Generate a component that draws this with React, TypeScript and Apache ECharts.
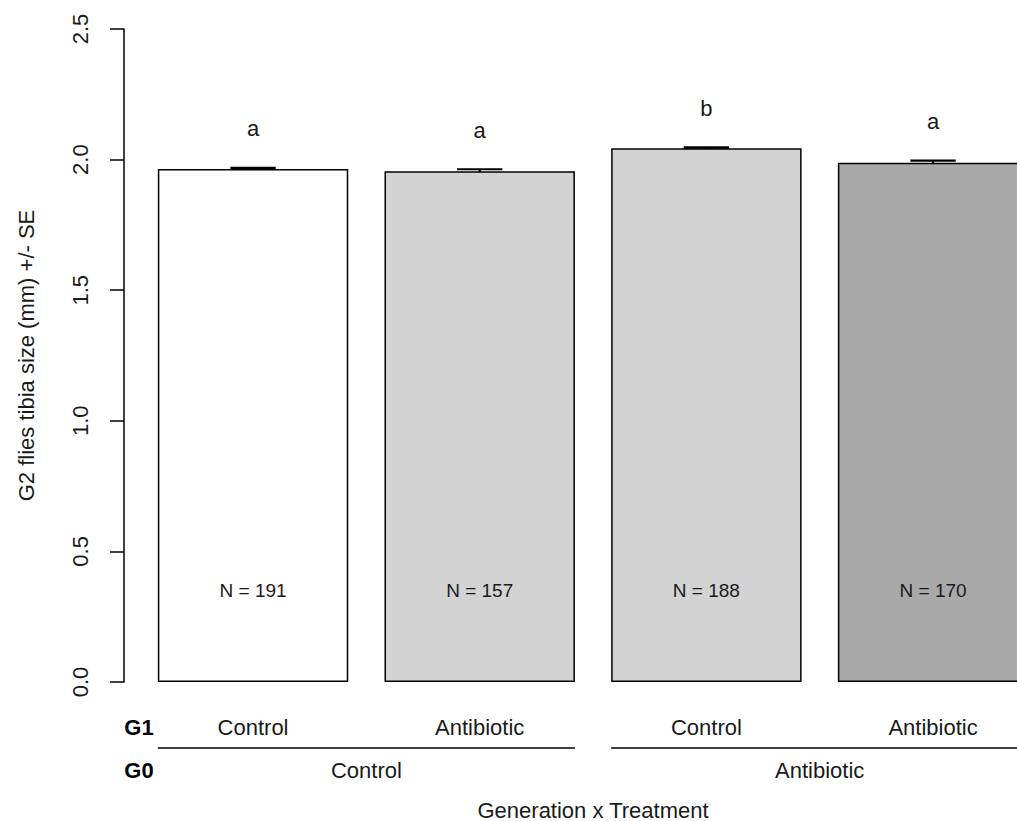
import React, { useEffect, useRef } from "react";
import * as echarts from "echarts";

const g1Labels = ["Control", "Antibiotic", "Control", "Antibiotic"];
const g0Labels = ["Control", "Antibiotic"];
const means = [1.964, 1.955, 2.043, 1.988];
const ses = [0.004, 0.008, 0.004, 0.008];
const letters = ["a", "a", "b", "a"];
const sampleSizes = [191, 157, 188, 170];
const barColors = ["#ffffff", "#d3d3d3", "#d3d3d3", "#a9a9a9"];
const groupSpans = [
  [0, 1],
  [2, 3],
];
const yTicks = { min: 0, max: 2.5, interval: 0.5 };

const FONT = '"Liberation Sans", Arial, Helvetica, sans-serif';
const TXT = "#1a1a1a";

export default function App() {
  const ref = useRef<HTMLDivElement>(null);
  useEffect(() => {
    if (!ref.current) return;
    const chart = echarts.init(ref.current, undefined, { renderer: "svg" });
    const option: any = {
      animation: false,
      backgroundColor: "#ffffff",
      textStyle: { fontFamily: FONT },
      grid: {
        left: 139.7,
        right: -29.4,
        top: 29,
        bottom: 139,
        outerBoundsMode: "none",
        containLabel: false,
      },
      xAxis: [
        {
          type: "category",
          data: g1Labels,
          axisLine: { show: false },
          axisTick: { show: false },
          axisLabel: { fontSize: 22, color: TXT, margin: 34, fontFamily: FONT },
          name: "Generation x Treatment",
          nameLocation: "middle",
          nameGap: 117,
          nameTextStyle: { fontSize: 22, color: TXT, fontFamily: FONT },
        },
        {
          type: "category",
          data: g0Labels,
          position: "bottom",
          axisLine: { show: false },
          axisTick: { show: false },
          axisLabel: { fontSize: 22, color: TXT, margin: 77, fontFamily: FONT },
        },
      ],
      yAxis: {
        type: "value",
        min: yTicks.min,
        max: yTicks.max,
        interval: yTicks.interval,
        offset: 15.7,
        splitLine: { show: false },
        axisLine: { show: true, lineStyle: { color: "#000", width: 1.5 } },
        axisTick: { show: true, length: 14, lineStyle: { color: "#000", width: 1.5 } },
        axisLabel: {
          rotate: 90,
          margin: 33,
          fontSize: 22,
          color: TXT,
          fontFamily: FONT,
          formatter: (v: number) => v.toFixed(1),
        },
        name: "G2 flies tibia size (mm) +/- SE",
        nameLocation: "middle",
        nameRotate: 90,
        nameGap: 87,
        nameTextStyle: { fontSize: 22, color: TXT, fontFamily: FONT },
      },
      series: [
        {
          type: "bar",
          barWidth: "84%",
          data: means.map((m, i) => ({
            value: m,
            itemStyle: { color: barColors[i], borderColor: "#000", borderWidth: 1.5 },
          })),
          silent: true,
        },
        {
          type: "custom",
          silent: true,
          data: means.map((m, i) => [i, m - ses[i], m + ses[i]]),
          renderItem: (params: any, api: any) => {
            const x = api.value(0);
            const lo = api.coord([x, api.value(1)]);
            const hi = api.coord([x, api.value(2)]);
            const half = api.size([1, 0])[0] * 0.1;
            const style = { stroke: "#000", lineWidth: 2.2 };
            return {
              type: "group",
              children: [
                { type: "line", shape: { x1: lo[0], y1: lo[1], x2: hi[0], y2: hi[1] }, style },
                { type: "line", shape: { x1: lo[0] - half, y1: lo[1], x2: lo[0] + half, y2: lo[1] }, style },
                { type: "line", shape: { x1: hi[0] - half, y1: hi[1], x2: hi[0] + half, y2: hi[1] }, style },
              ],
            };
          },
        },
        {
          type: "scatter",
          silent: true,
          symbolSize: 0,
          itemStyle: { opacity: 1 },
          data: means.map((m, i) => [i, m + ses[i] + 0.15]),
          label: {
            show: true,
            position: "inside",
            fontSize: 22,
            color: TXT,
            opacity: 1,
            textBorderWidth: 0,
            fontFamily: FONT,
            formatter: (p: any) => letters[p.dataIndex],
          },
        },
        {
          type: "scatter",
          silent: true,
          symbolSize: 0,
          itemStyle: { opacity: 1 },
          data: sampleSizes.map((n, i) => [i, 0.35]),
          label: {
            show: true,
            position: "inside",
            fontSize: 19,
            color: TXT,
            opacity: 1,
            textBorderWidth: 0,
            fontFamily: FONT,
            formatter: (p: any) => "N = " + sampleSizes[p.dataIndex],
          },
        },
        {
          type: "custom",
          silent: true,
          clip: false,
          data: groupSpans.map((g) => [g[0], g[1]]),
          renderItem: (params: any, api: any) => {
            const a = api.value(0);
            const b = api.value(1);
            const bw = api.size([1, 0])[0] * 0.84;
            const pa = api.coord([a, 0]);
            const pb = api.coord([b, 0]);
            const y = pa[1] + 66;
            return {
              type: "line",
              shape: { x1: pa[0] - bw / 2, y1: y, x2: pb[0] + bw / 2, y2: y },
              style: { stroke: "#000", lineWidth: 1.5 },
            };
          },
        },
      ],
      graphic: [
        {
          type: "text",
          x: 139,
          y: 727,
          style: {
            text: "G1",
            font: 'bold 22px "Liberation Sans", Arial, sans-serif',
            fill: "#000",
            align: "center",
            verticalAlign: "middle",
          },
        },
        {
          type: "text",
          x: 139,
          y: 770,
          style: {
            text: "G0",
            font: 'bold 22px "Liberation Sans", Arial, sans-serif',
            fill: "#000",
            align: "center",
            verticalAlign: "middle",
          },
        },
      ],
    };
    chart.setOption(option);
    return () => chart.dispose();
  }, []);
  return (
    <div
      ref={ref}
      style={{ position: "fixed", left: 0, top: 0, width: 1017, height: 821, background: "#fff" }}
    />
  );
}
